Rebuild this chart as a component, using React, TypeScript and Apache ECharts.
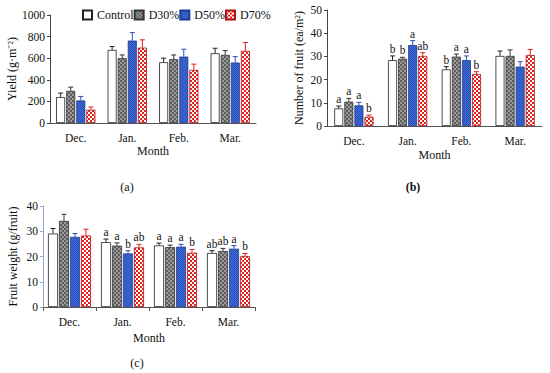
import React, { useEffect, useRef } from "react";
import * as echarts from "echarts";

const months = ["Dec.", "Jan.", "Feb.", "Mar."];
const seriesNames = ["Control", "D30%", "D50%", "D70%"];

// (a) Yield (g·m-2)
const yieldControl = [240, 677, 563, 646];
const yieldControlSE = [37, 31, 37, 46];
const yieldD30 = [298, 600, 591, 631];
const yieldD30SE = [34, 30, 39, 39];
const yieldD50 = [209, 763, 615, 560];
const yieldD50SE = [37, 74, 68, 55];
const yieldD70 = [123, 698, 492, 668];
const yieldD70SE = [25, 72, 53, 77];

// (b) Number of fruit (ea/m2)
const numControl = [7.6, 28.4, 24.4, 30.2];
const numControlSE = [1.0, 1.8, 1.2, 2.1];
const numD30 = [10.5, 29.0, 29.9, 30.2];
const numD30SE = [1.4, 0.6, 1.1, 2.6];
const numD50 = [8.9, 34.9, 28.4, 25.6];
const numD50SE = [1.3, 1.9, 1.8, 2.1];
const numD70 = [4.0, 30.2, 22.4, 30.6];
const numD70SE = [0.7, 1.4, 1.0, 2.4];
const numControlLetters = ["a", "b", "b", ""];
const numD30Letters = ["a", "b", "a", ""];
const numD50Letters = ["a", "a", "a", ""];
const numD70Letters = ["b", "ab", "b", ""];

// (c) Fruit weight (g/fruit)
const wtControl = [29.1, 25.7, 24.4, 21.4];
const wtControlSE = [2.0, 1.2, 0.9, 0.9];
const wtD30 = [34.1, 24.3, 23.7, 22.2];
const wtD30SE = [2.6, 1.1, 0.8, 1.0];
const wtD50 = [27.8, 21.2, 23.9, 23.1];
const wtD50SE = [1.3, 1.1, 0.9, 1.2];
const wtD70 = [28.3, 23.6, 21.5, 20.2];
const wtD70SE = [2.5, 1.2, 1.3, 1.0];
const wtControlLetters = ["", "a", "a", "ab"];
const wtD30Letters = ["", "a", "a", "ab"];
const wtD50Letters = ["", "b", "a", "a"];
const wtD70Letters = ["", "ab", "b", "b"];

const FONT = "Liberation Serif, 'Times New Roman', serif";

function checker(c1: string, c2: string, size: number) {
  const cv = document.createElement("canvas");
  cv.width = size * 2;
  cv.height = size * 2;
  const ctx = cv.getContext("2d")!;
  ctx.fillStyle = c1;
  ctx.fillRect(0, 0, size * 2, size * 2);
  ctx.fillStyle = c2;
  ctx.fillRect(0, 0, size, size);
  ctx.fillRect(size, size, size, size);
  return cv;
}

export default function App() {
  const ref = useRef<HTMLDivElement>(null);

  useEffect(() => {
    if (!ref.current) return;
    const chart = echarts.init(ref.current, undefined, { renderer: "svg" });

    const fills: any[] = [
      "#ffffff",
      { image: checker("#9a9a9a", "#5e5e5e", 2), repeat: "repeat" },
      { image: checker("#3f6fd8", "#2a4cb4", 1), repeat: "repeat" },
      { image: checker("#e4201c", "#ffffff", 2), repeat: "repeat" },
    ];
    const borders = ["#222", "#333", "#1d3a94", "#b01010"];
    const errColors = ["#222", "#333", "#2b4fb0", "#e02020"];

    const panels = [
      {
        grid: { left: 50, top: 15, width: 206, height: 108 },
        vals: [yieldControl, yieldD30, yieldD50, yieldD70],
        se: [yieldControlSE, yieldD30SE, yieldD50SE, yieldD70SE],
        letters: null as string[][] | null,
        max: 1000,
        interval: 200,
        yName: "Yield (g·m⁻²)",
        yGap: 32,
        xGap: 21,
        bw: 9,
        gap: 0.12,
        yLineColor: "#444",
        xTicks: false,
      },
      {
        grid: { left: 327, top: 10, width: 215, height: 116 },
        vals: [numControl, numD30, numD50, numD70],
        se: [numControlSE, numD30SE, numD50SE, numD70SE],
        letters: [numControlLetters, numD30Letters, numD50Letters, numD70Letters],
        max: 50,
        interval: 10,
        yName: "Number of fruit (ea/m²)",
        yGap: 22,
        xGap: 23,
        bw: 9,
        gap: 0.12,
        yLineColor: "#444",
        xTicks: false,
      },
      {
        grid: { left: 43, top: 206, width: 212, height: 101 },
        vals: [wtControl, wtD30, wtD50, wtD70],
        se: [wtControlSE, wtD30SE, wtD50SE, wtD70SE],
        letters: [wtControlLetters, wtD30Letters, wtD50Letters, wtD70Letters],
        max: 40,
        interval: 10,
        yName: "Fruit weight (g/fruit)",
        yGap: 24,
        xGap: 25,
        bw: 10,
        gap: 0.1,
        yLineColor: "#93a9d2",
        xTicks: true,
      },
    ];

    const grids: any[] = [];
    const xAxes: any[] = [];
    const yAxes: any[] = [];
    const series: any[] = [];

    panels.forEach((p, k) => {
      grids.push({ ...p.grid, containLabel: false });
      xAxes.push({
        type: "category",
        gridIndex: k,
        data: months,
        name: "Month",
        nameLocation: "middle",
        nameGap: p.xGap,
        nameTextStyle: { fontFamily: FONT, fontSize: 12, color: "#111" },
        axisLine: { lineStyle: { color: "#555", width: 1 } },
        axisTick: { show: p.xTicks, length: 4, lineStyle: { color: "#555" } },
        axisLabel: { fontFamily: FONT, fontSize: 11.5, color: "#111", margin: 9 },
      });
      yAxes.push({
        type: "value",
        gridIndex: k,
        min: 0,
        max: p.max,
        interval: p.interval,
        name: p.yName,
        nameLocation: "middle",
        nameGap: p.yGap,
        nameTextStyle: { fontFamily: FONT, fontSize: 12, color: "#111" },
        axisLine: { show: true, lineStyle: { color: p.yLineColor, width: 1 } },
        axisTick: { show: true, length: 3, lineStyle: { color: p.yLineColor } },
        axisLabel: {
          fontFamily: FONT,
          fontSize: 11.5,
          color: "#111",
          margin: 5,
          formatter: (v: number) => String(v),
        },
        splitLine: { show: false },
      });

      p.vals.forEach((vals, i) => {
        series.push({
          type: "bar",
          name: seriesNames[i],
          xAxisIndex: k,
          yAxisIndex: k,
          data: vals,
          barWidth: p.bw,
          barGap: p.gap * 100 + "%",
          itemStyle: { color: fills[i], borderColor: borders[i], borderWidth: 0.8 },
          emphasis: { disabled: true },
        });
      });

      const entries: any[] = [];
      p.vals.forEach((vals, i) => {
        vals.forEach((v, j) => {
          entries.push({
            s: i,
            cat: j,
            value: v,
            top: v + p.se[i][j],
            letter: p.letters ? p.letters[i][j] : "",
          });
        });
      });
      const bw = p.bw;
      const gap = p.gap;
      series.push({
        type: "custom",
        xAxisIndex: k,
        yAxisIndex: k,
        data: entries.map((e) => [e.cat, e.top]),
        encode: { x: 0, y: 1 },
        silent: true,
        z: 5,
        renderItem: (params: any, api: any) => {
          const e = entries[params.dataIndex];
          const base = api.coord([e.cat, e.value]);
          const top = api.coord([e.cat, e.top]);
          const x = base[0] + (e.s - 1.5) * bw * (1 + gap);
          const st = { stroke: errColors[e.s], lineWidth: 1 };
          const children: any[] = [
            { type: "line", shape: { x1: x, y1: base[1], x2: x, y2: top[1] }, style: st },
            { type: "line", shape: { x1: x - 2.5, y1: top[1], x2: x + 2.5, y2: top[1] }, style: st },
          ];
          if (e.letter) {
            children.push({
              type: "text",
              x: x,
              y: top[1] - 1,
              style: {
                text: e.letter,
                fontFamily: FONT,
                fontSize: 11.5,
                fill: "#111",
                align: "center",
                verticalAlign: "bottom",
              },
            });
          }
          return { type: "group", children };
        },
      });
    });

    chart.setOption({
      animation: false,
      backgroundColor: "#ffffff",
      legend: {
        data: seriesNames,
        left: 82,
        top: 9,
        padding: 0,
        itemWidth: 9,
        itemHeight: 9,
        itemGap: 0,
        icon: "rect",
        textStyle: { fontFamily: FONT, fontSize: 12, color: "#111" },
        selectedMode: false,
      },
      grid: grids,
      xAxis: xAxes,
      yAxis: yAxes,
      series,
      graphic: [
        { type: "text", x: 127, y: 187, style: { text: "(a)", fontFamily: FONT, fontSize: 12, fill: "#111", align: "center", verticalAlign: "middle" } },
        { type: "text", x: 413, y: 187, style: { text: "(b)", fontFamily: FONT, fontSize: 12, fontWeight: "bold", fill: "#111", align: "center", verticalAlign: "middle" } },
        { type: "text", x: 137, y: 363, style: { text: "(c)", fontFamily: FONT, fontSize: 12, fill: "#111", align: "center", verticalAlign: "middle" } },
      ],
    });

    return () => chart.dispose();
  }, []);

  return (
    <div
      ref={ref}
      style={{ position: "fixed", left: 0, top: 0, width: 550, height: 373, background: "#fff" }}
    />
  );
}
